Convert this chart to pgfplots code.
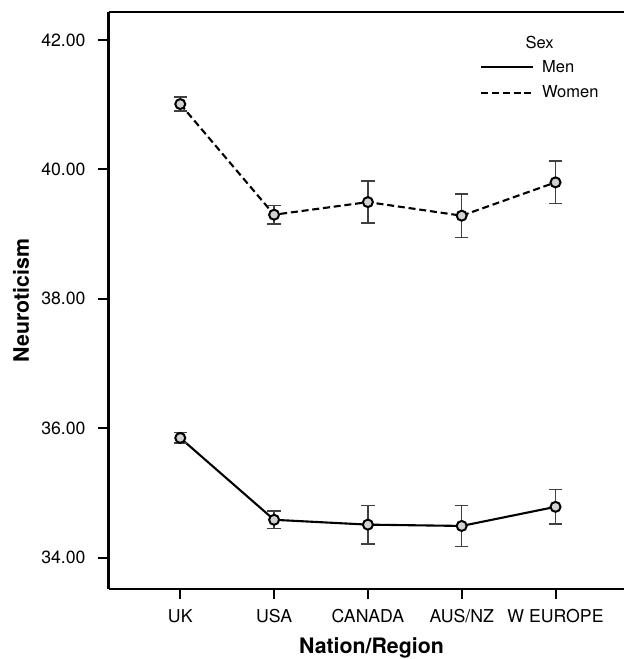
\documentclass[border=0pt]{standalone}
\usepackage{pgfplots}
\pgfplotsset{compat=1.18}
\usepackage{fontspec}
\setmainfont{TeX Gyre Heros}
\definecolor{mkfill}{HTML}{D2D2D2}
\definecolor{errc}{HTML}{404040}
\begin{document}
\begin{tikzpicture}
\begin{axis}[
  scale only axis,
  width=515.4pt, height=576.7pt,
  xmin=-0.764, xmax=4.73,
  ymin=33.52, ymax=42.433,
  axis x line*=bottom, axis y line*=left,
  axis line style={line width=2.2pt, -},
  xtick={0,1,2,3,4},
  xticklabels={UK,USA,CANADA,AUS/NZ,W EUROPE},
  ytick={34,36,38,40,42},
  yticklabel={\pgfmathprintnumber[fixed,fixed zerofill,precision=2]{\tick}},
  /pgf/number format/assume math mode=true,
  tick align=outside, major tick length=10.5pt,
  tick style={line width=2pt, black},
  tick label style={font=\fontsize{17.7}{20}\selectfont},
  xticklabel style={anchor=base, yshift=-23pt},
  yticklabel style={anchor=east, xshift=-9pt},
  xlabel={\textbf{Nation/Region}},
  ylabel={\textbf{Neuroticism}},
  label style={font=\fontsize{21.3}{24}\selectfont},
  xlabel style={at={(rel axis cs:0.51,-0.112)}, anchor=base},
  ylabel style={at={(rel axis cs:-0.17,0.5)}, anchor=center, rotate=0},
  clip=false,
  legend style={draw=none, fill=none, at={(rel axis cs:0.7205,0.92)}, anchor=north west,
    font=\fontsize{16.5}{19}\selectfont, row sep=8pt, inner sep=0pt,
    cells={anchor=west},
    /tikz/every odd column/.style={column sep=6pt}},
  legend image code/.code={\draw[#1] (0pt,0pt) -- (52pt,0pt);},
]
\addplot[forget plot, black, line width=2.1pt, dash pattern=on 7pt off 3.8pt,
  mark=*, mark size=5pt, mark options={fill=mkfill, draw=black, line width=2pt, solid},
  error bars/.cd, y dir=both, y explicit,
  error bar style={line width=1.4pt, color=errc, solid},
  error mark options={rotate=90, mark size=6.7pt, line width=1.4pt, color=errc, solid}]
  table[x=x, y=y, y error=e] {
  x y e
  0 41.01 0.11
  1 39.30 0.145
  2 39.495 0.325
  3 39.285 0.335
  4 39.80 0.33
  };
\addplot[forget plot, black, line width=2.1pt,
  mark=*, mark size=5pt, mark options={fill=mkfill, draw=black, line width=2pt, solid},
  error bars/.cd, y dir=both, y explicit,
  error bar style={line width=1.4pt, color=errc, solid},
  error mark options={rotate=90, mark size=6.7pt, line width=1.4pt, color=errc, solid}]
  table[x=x, y=y, y error=e] {
  x y e
  0 35.85 0.08
  1 34.585 0.135
  2 34.51 0.30
  3 34.49 0.32
  4 34.785 0.265
  };
\addlegendimage{black, line width=2pt}
\addlegendentry{Men}
\addlegendimage{black, line width=2pt, dash pattern=on 7pt off 3.8pt}
\addlegendentry{Women}
\node[font=\fontsize{16.5}{19}\selectfont, anchor=center] at (rel axis cs:0.8364,0.9465) {Sex};
\draw[line width=2.2pt] (rel axis cs:0,1) -- (rel axis cs:1,1);
\coordinate (SW) at (rel axis cs:0,0);
\coordinate (NE) at (rel axis cs:1,1);
\end{axis}
\pgfresetboundingbox
\path[use as bounding box] ([shift={(-108.6pt,-70.3pt)}]SW) rectangle ([shift={(1pt,12pt)}]NE);
\end{tikzpicture}
\end{document}
